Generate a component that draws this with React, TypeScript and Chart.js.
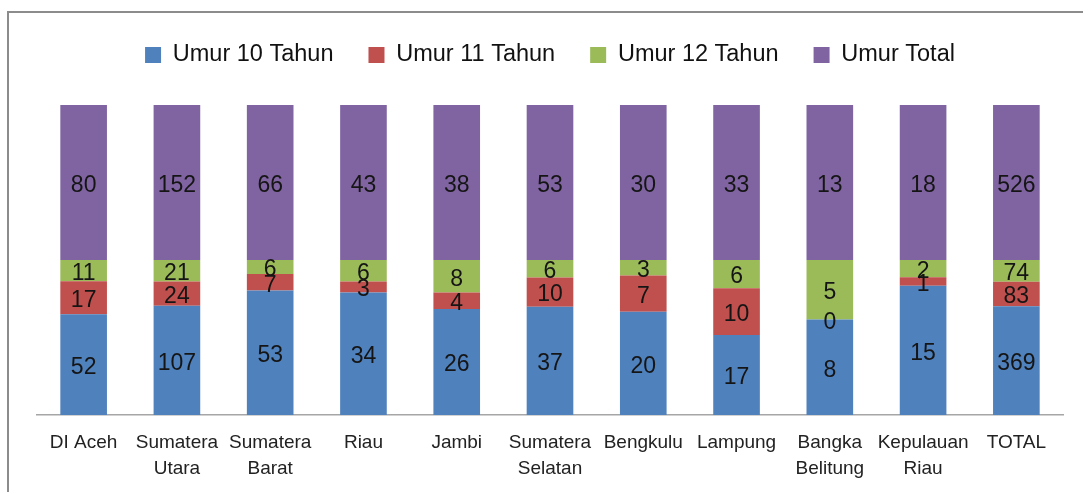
import React, { useEffect, useRef } from "react";
import { Chart, registerables } from "chart.js";

Chart.register(...registerables);

const categories: string[][] = [
  ["DI Aceh"],
  ["Sumatera", "Utara"],
  ["Sumatera", "Barat"],
  ["Riau"],
  ["Jambi"],
  ["Sumatera", "Selatan"],
  ["Bengkulu"],
  ["Lampung"],
  ["Bangka", "Belitung"],
  ["Kepulauan", "Riau"],
  ["TOTAL"],
];
const umur10 = [52, 107, 53, 34, 26, 37, 20, 17, 8, 15, 369];
const umur11 = [17, 24, 7, 3, 4, 10, 7, 10, 0, 1, 83];
const umur12 = [11, 21, 6, 6, 8, 6, 3, 6, 5, 2, 74];
const umurTotal = [80, 152, 66, 43, 38, 53, 30, 33, 13, 18, 526];
const seriesNames = ["Umur 10 Tahun", "Umur 11 Tahun", "Umur 12 Tahun", "Umur Total"];
const seriesColors = ["#4F81BD", "#C0504D", "#9BBB59", "#8064A2"];

const rawSeries = [umur10, umur11, umur12, umurTotal];
const barSums = categories.map((_, i) => rawSeries.reduce((s, arr) => s + arr[i], 0));
const pctSeries = rawSeries.map((arr) => arr.map((v, i) => (v / barSums[i]) * 100));

const FONT = "'Liberation Sans', Arial, sans-serif";

const valueLabels = {
  id: "valueLabels",
  afterDatasetsDraw(chart: any) {
    const ctx = chart.ctx;
    ctx.save();
    ctx.font = `23px ${FONT}`;
    ctx.fillStyle = "#151515";
    ctx.textAlign = "center";
    ctx.textBaseline = "middle";
    chart.data.datasets.forEach((_: any, di: number) => {
      const meta = chart.getDatasetMeta(di);
      meta.data.forEach((el: any, i: number) => {
        const y = (el.y + el.base) / 2;
        ctx.fillText(String(rawSeries[di][i]), el.x, y + 3);
      });
    });
    ctx.restore();
  },
};

const legendSpacing = {
  id: "legendSpacing",
  beforeInit(chart: any) {
    const legend = chart.legend;
    if (!legend) return;
    const origFit = legend.fit;
    legend.fit = function fit() {
      origFit.call(this);
      this.height += 28.25;
    };
  },
};

export default function App() {
  const canvasRef = useRef<HTMLCanvasElement | null>(null);

  useEffect(() => {
    if (!canvasRef.current) return;
    const chart = new Chart(canvasRef.current, {
      type: "bar",
      data: {
        labels: categories,
        datasets: pctSeries.map((data, i) => ({
          label: seriesNames[i],
          data,
          backgroundColor: seriesColors[i],
          borderWidth: 0,
          categoryPercentage: 0.5,
          barPercentage: 1,
        })),
      },
      options: {
        responsive: false,
        animation: false,
        layout: { padding: { left: 37, right: 20, top: 8.25, bottom: -5 } },
        plugins: {
          tooltip: { enabled: false },
          legend: {
            position: "top",
            labels: {
              boxWidth: 16,
              boxHeight: 16,
              padding: 35,
              color: "#111111",
              font: { family: FONT, size: 23.5 },
            },
          },
        },
        scales: {
          x: {
            stacked: true,
            grid: { display: false, drawTicks: false },
            border: { display: true, color: "#a6a6a6", width: 1.5 },
            ticks: {
              color: "#222222",
              font: { family: FONT, size: 19, lineHeight: 1.37 },
              maxRotation: 0,
              autoSkip: false,
              padding: 15,
            },
          },
          y: {
            stacked: true,
            min: 0,
            max: 100,
            display: false,
          },
        },
      },
      plugins: [valueLabels, legendSpacing],
    });
    return () => chart.destroy();
  }, []);

  return (
    <div style={{ position: "fixed", left: 0, top: 0, width: 1083, height: 492, background: "#ffffff" }}>
      <canvas ref={canvasRef} width={1083} height={492} style={{ position: "absolute", left: 0, top: 0 }} />
      <div
        style={{
          position: "absolute",
          left: 7,
          top: 11,
          width: 1076,
          height: 481,
          borderTop: "2px solid #8c8c8c",
          borderLeft: "2px solid #8c8c8c",
          boxSizing: "border-box",
          pointerEvents: "none",
        }}
      />
    </div>
  );
}
